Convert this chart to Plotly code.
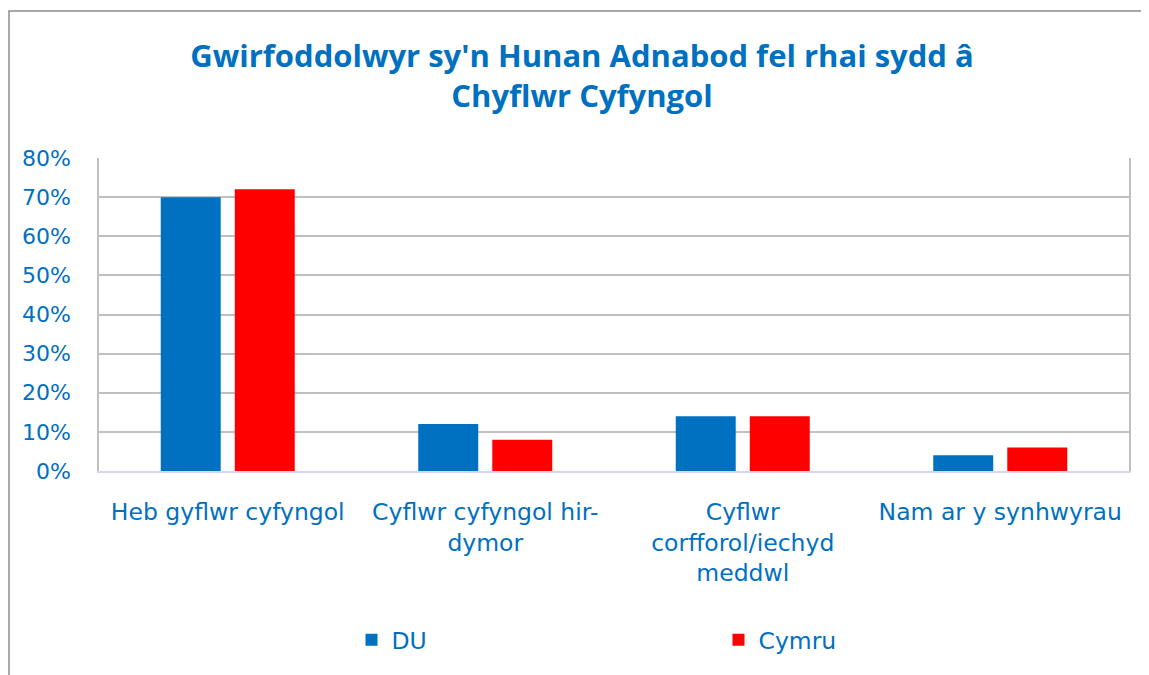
import plotly.graph_objects as go

categories = [
    "Heb gyflwr cyfyngol",
    "Cyflwr cyfyngol hir-<br>dymor",
    "Cyflwr<br>corfforol/iechyd<br>meddwl",
    "Nam ar y synhwyrau",
]
du_values = [0.70, 0.12, 0.14, 0.04]
cymru_values = [0.72, 0.08, 0.14, 0.06]
series_names = ["DU", "Cymru"]
y_tick_values = [0, 0.1, 0.2, 0.3, 0.4, 0.5, 0.6, 0.7, 0.8]
title_text = "Gwirfoddolwyr sy'n Hunan Adnabod fel rhai sydd â<br>Chyflwr Cyfyngol"

BLUE = "#0070C0"
RED = "#FF0000"
TXT_FONT = "DejaVu Sans"
TITLE_FONT = "Open Sans"
YS = 22
XS = 23.5

fig = go.Figure()
fig.add_trace(go.Bar(x=categories, y=du_values, name=series_names[0],
                     marker=dict(color=BLUE, line=dict(width=0))))
fig.add_trace(go.Bar(x=categories, y=cymru_values, name=series_names[1],
                     marker=dict(color=RED, line=dict(width=0))))

# page body has an 8px offset; work in screen pixels and convert
OFF = 8
W, H = 1141, 667
PL, PR, PT, PB = 99, 1129, 158, 471  # plot area in screen px
L = PL - OFF
T = PT - OFF
R = W - (PR - OFF)
B = H - (PB - OFF)
pw = W - L - R
ph = H - T - B

def px_x(px):
    return (px - OFF - L) / pw

def px_y(py):
    return (H - B - (py - OFF)) / ph

fig.update_layout(
    width=W, height=H,
    margin=dict(l=L, r=R, t=T, b=B, autoexpand=False),
    paper_bgcolor="white",
    plot_bgcolor="white",
    barmode="group",
    bargap=0.425,
    bargroupgap=0.19,
    title=dict(
        text=title_text,
        x=(582 - OFF) / W, xanchor="center",
        y=1 - (79 - OFF - 12) / H, yanchor="middle",
        font=dict(family=TITLE_FONT, size=31, color=BLUE, weight="bold"),
    ),
    font=dict(family=TXT_FONT, color=BLUE, size=XS),
    legend=dict(
        orientation="h",
        x=px_x(351.5), xanchor="left",
        y=px_y(640), yanchor="middle",
        entrywidth=322, entrywidthmode="pixels",
        font=dict(family=TXT_FONT, size=XS, color=BLUE),
        bgcolor="rgba(0,0,0,0)",
    ),
    xaxis=dict(
        showline=True, linecolor="#D6D4F0", linewidth=2,
        showgrid=False, ticks="",
        tickfont=dict(family=TXT_FONT, size=XS, color=BLUE),
        ticklabelstandoff=19,
    ),
    yaxis=dict(
        range=[0, 0.8],
        tickvals=y_tick_values,
        tickformat=".0%",
        showgrid=True, gridcolor="#C0C0C0", gridwidth=1.5,
        showline=True, linecolor="#C0C0C0", linewidth=1.5, mirror=True,
        zeroline=False, ticks="",
        tickfont=dict(family=TXT_FONT, size=YS, color=BLUE),
        ticklabelstandoff=22,
    ),
    shapes=[
        dict(type="rect", xref="paper", yref="paper",
             x0=px_x(OFF + 1), x1=px_x(1170), y0=px_y(700), y1=px_y(11),
             line=dict(color="#8C8C8C", width=1.5), fillcolor="rgba(0,0,0,0)",
             layer="below"),
    ],
)

fig.write_html("out.html")
